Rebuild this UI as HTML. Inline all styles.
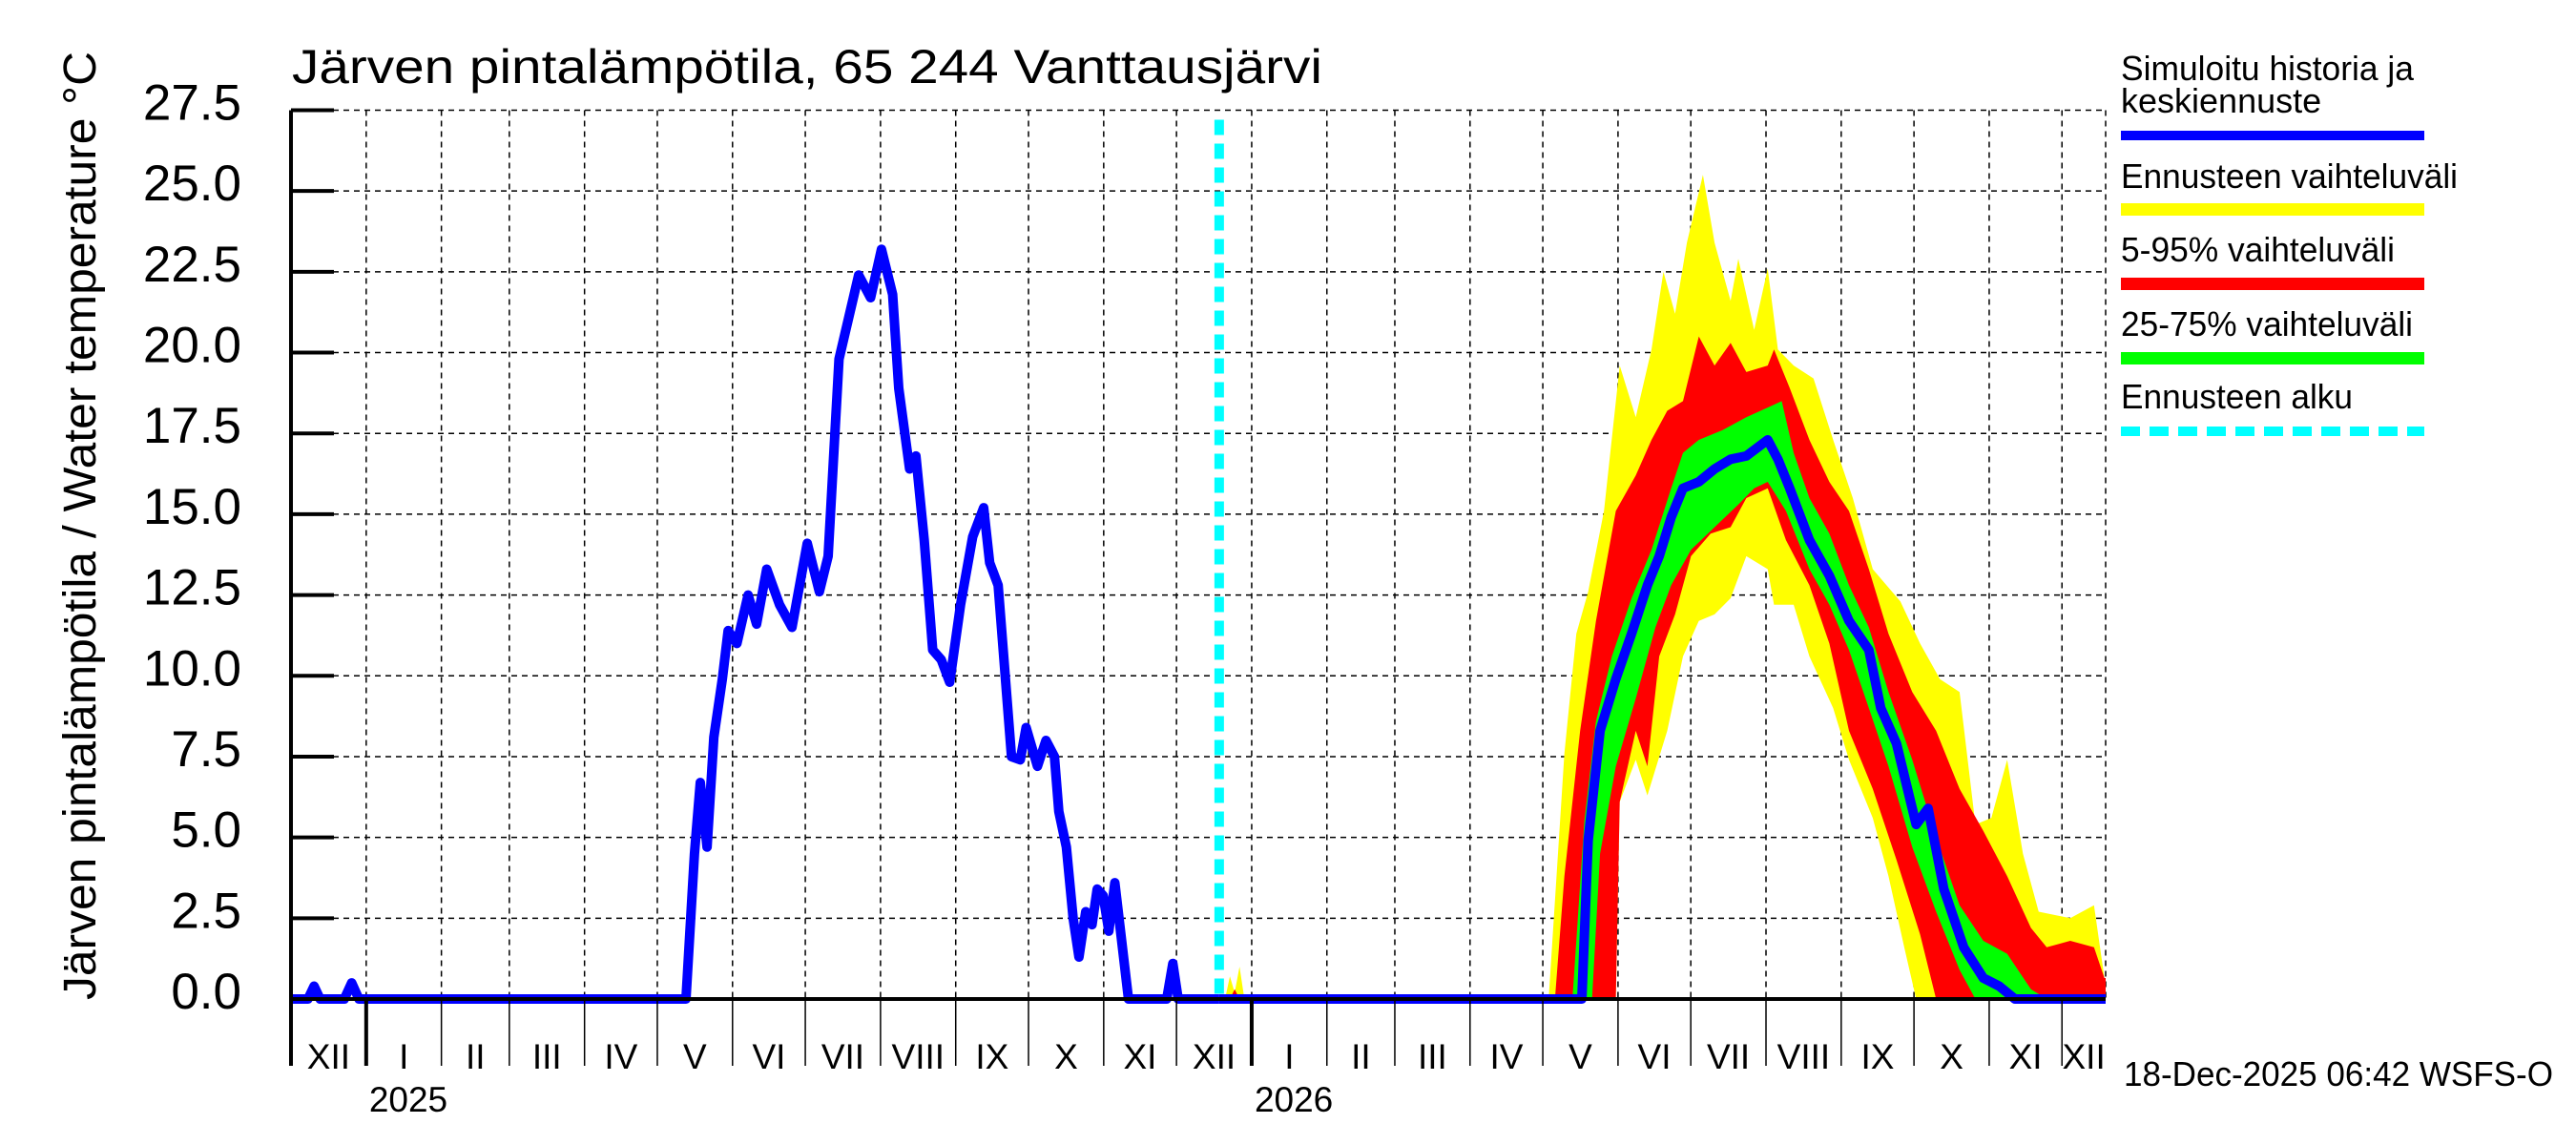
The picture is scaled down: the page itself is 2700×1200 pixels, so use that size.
<!DOCTYPE html>
<html><head><meta charset="utf-8"><style>
html,body{margin:0;padding:0;background:#fff}
svg{display:block}
text{font-family:"Liberation Sans",sans-serif;fill:#000}
</style></head><body>
<svg id="chart" width="2700" height="1200" viewBox="0 0 2700 1200" xmlns="http://www.w3.org/2000/svg">
<g id="grid"></g>
<g id="bands"></g>
<g id="lines"></g>
<g id="axes"></g>
<text x="306" y="87" font-size="50" textLength="1080" lengthAdjust="spacingAndGlyphs">Järven pintalämpötila, 65 244 Vanttausjärvi</text>
<text transform="translate(100,551) rotate(-90)" text-anchor="middle" font-size="48" textLength="994" lengthAdjust="spacingAndGlyphs">Järven pintalämpötila / Water temperature °C</text>
<g>
<text x="2223" y="84" font-size="36" textLength="307" lengthAdjust="spacingAndGlyphs">Simuloitu historia ja</text>
<text x="2223" y="118" font-size="36">keskiennuste</text>
<rect x="2223" y="137" width="318" height="10" fill="#0000ff"/>
<text x="2223" y="197" font-size="36" textLength="353" lengthAdjust="spacingAndGlyphs">Ennusteen vaihteluväli</text>
<rect x="2223" y="213" width="318" height="13" fill="#ffff00"/>
<text x="2223" y="274" font-size="36" textLength="287" lengthAdjust="spacingAndGlyphs">5-95% vaihteluväli</text>
<rect x="2223" y="291" width="318" height="13" fill="#ff0000"/>
<text x="2223" y="352" font-size="36" textLength="306" lengthAdjust="spacingAndGlyphs">25-75% vaihteluväli</text>
<rect x="2223" y="369" width="318" height="13" fill="#00ff00"/>
<text x="2223" y="428" font-size="36" textLength="243" lengthAdjust="spacingAndGlyphs">Ennusteen alku</text>
<line x1="2223" y1="452" x2="2541" y2="452" stroke="#00ffff" stroke-width="10" stroke-dasharray="20 10"/>
</g>
<text x="2226" y="1138" font-size="36" textLength="450" lengthAdjust="spacingAndGlyphs">18-Dec-2025 06:42 WSFS-O</text>
</svg>
<script>
// days since 2024-12-01
const histDays=[0,7,9.5,12,22,25,28,162.8,166.3,168.7,171.5,174.3,177.8,180.2,183.8,188.4,191.9,196.1,201.4,206.5,212.8,217.8,221.4,225.9,234,238.9,243.4,248,250.5,255,257.6,261,264.5,268,271.5,276,281,285.5,288,291.5,297,300.6,303,307.7,311.2,314.7,316.5,319.6,322.4,324.8,327.6,330.2,332.3,334.8,337.1,339.6,345.2,361,363.5,365.7,382.6];
const histVals=[0,0,0.4,0,0,0.5,0,0,4.5,6.7,4.7,8.1,9.9,11.4,11.0,12.5,11.6,13.3,12.2,11.5,14.1,12.6,13.7,19.8,22.4,21.7,23.2,21.8,18.9,16.4,16.8,14.2,10.8,10.5,9.8,12.2,14.3,15.2,13.5,12.8,7.5,7.4,8.4,7.2,8.0,7.5,5.8,4.7,2.5,1.3,2.7,2.3,3.4,3.2,2.1,3.6,0,0,1.1,0,0];
const medDays=[382.6,532.1,534.7,539.6,546.1,552.6,559.1,564.0,568.9,573.8,580.3,586.8,593.4,599.9,608.7,612.9,617.8,625.9,634.1,642.2,650.4,655.3,661.8,669.9,674.8,681.3,689.5,697.6,704.1,710.6,748];
const medVals=[0,0,4.9,8.3,9.9,11.3,12.8,13.7,14.9,15.8,16.0,16.4,16.7,16.8,17.3,16.7,15.8,14.2,13.1,11.7,10.8,9.0,7.9,5.4,5.9,3.4,1.6,0.65,0.4,0,0];
const yHiDays=[382.6,385,387,389,391,393,518.4,524.9,529.8,534.7,541.2,547.7,554.3,560.8,565.7,570.5,575.4,582.0,586.8,593.4,596.6,603.1,608.7,612.9,619.4,627.6,635.7,643.8,652.0,663.4,671.5,679.7,687.8,694.3,700.9,707.4,713.9,720.4,733.4,743.2,747.5,748];
const yHiVals=[0,0,0.7,0.2,1.0,0,0,7.6,11.3,12.6,15.1,19.6,18,20.1,22.5,21.2,23.4,25.5,23.4,21.6,22.9,20.7,22.6,20.1,19.6,19.2,17.3,15.5,13.3,12.3,11.0,9.9,9.5,5.4,5.6,7.4,4.5,2.7,2.5,2.9,0.65,0.65];
const yLoDays=[382.6,546.1,547.7,554.3,559.1,567.3,573.8,580.3,586.8,593.4,599.9,608.7,611.3,619.4,625.9,635.7,642.2,652.0,658.5,665.0,669.9,748];
const yLoVals=[0,0,6.1,7.4,6.3,8.3,10.6,11.7,11.9,12.4,13.7,13.3,12.2,12.2,10.6,9.0,7.4,5.6,3.8,1.6,0,0];
const rHiDays=[382.6,387,389,391,521.0,524.9,531.4,537.9,546.1,554.3,560.8,567.3,573.8,580.3,586.8,593.4,599.9,608.7,611.3,617.8,625.9,634.1,642.2,650.4,658.5,668.3,678.1,687.8,697.6,707.4,717.2,723.7,733.4,743.2,747.5,748];
const rHiVals=[0,0,0.3,0,0,3.8,8.3,11.7,15.1,16.2,17.3,18.2,18.5,20.5,19.6,20.3,19.4,19.6,20.1,18.9,17.3,16.0,15.1,13.3,11.3,9.5,8.3,6.5,5.2,3.8,2.2,1.6,1.8,1.6,0.65,0.65];
const rLoDays=[382.6,546.1,547.7,554.3,559.1,564.0,570.5,577.1,585.2,593.4,599.9,608.7,616.2,625.9,634.1,642.2,652.0,661.8,671.5,678.1,748];
const rLoVals=[0,0,6.1,8.3,7.2,10.6,11.9,13.7,14.4,14.6,15.5,15.8,14.2,12.8,11.0,8.3,6.5,4.3,2.0,0,0];
const gHiDays=[382.6,528.2,533.1,537.9,544.5,552.6,560.8,568.9,573.8,580.3,590.1,599.9,608.7,614.5,619.4,625.9,634.1,642.2,650.4,658.5,668.3,678.1,687.8,697.6,707.4,717.2,723.7,748];
const gHiVals=[0,0,5.5,8.6,10.6,12.4,13.9,15.8,16.9,17.3,17.6,18.0,18.3,18.5,16.9,15.5,14.4,12.8,11.5,9.5,7.4,5.0,2.9,1.8,1.4,0.3,0,0];
const gLoDays=[382.6,536.3,539.6,546.1,554.3,562.4,568.9,577.1,586.8,596.6,603.1,608.7,616.2,625.9,634.1,642.2,650.4,658.5,668.3,678.1,687.8,694.3,748];
const gLoVals=[0,0,4.5,7.2,9.3,11.5,12.8,13.9,14.6,15.3,15.8,16.0,15.1,13.3,12.2,10.8,9.0,7.2,4.7,2.7,0.9,0,0];
const yTicks=[0,2.5,5,7.5,10,12.5,15,17.5,20,22.5,25,27.5];
const monthStarts=[0,31,62,90,121,151,182,212,243,274,304,335,365,396,427,455,486,516,547,577,608,639,669,700,730];
const monthLabels=["XII","I","II","III","IV","V","VI","VII","VIII","IX","X","XI","XII","I","II","III","IV","V","VI","VII","VIII","IX","X","XI","XII"];
const yearLabels=["2025","2026"];
const yearStarts=[31,396];
const forecastStart=382.6;
const domainDays=748;

const X0=305,X1=2207,Y0=1047,YT=115.5;
const xs=d=>X0+(X1-X0)*d/domainDays;
const ys=v=>Y0-(Y0-YT)*v/27.5;
const NS="http://www.w3.org/2000/svg";
function mk(tag,attrs,parent){const e=document.createElementNS(NS,tag);for(const k in attrs)e.setAttribute(k,attrs[k]);parent.appendChild(e);return e;}
const grid=document.getElementById('grid'),bands=document.getElementById('bands'),lines=document.getElementById('lines'),axes=document.getElementById('axes');

yTicks.forEach((t,i)=>{
  if(i>0){const g=mk('line',{x1:X0,x2:X1,y1:ys(t),y2:ys(t),stroke:'#000','stroke-width':1.5,'stroke-dasharray':'6 5'},grid);
  
  }
  const tk=mk('line',{x1:X0,x2:X0+45,y1:ys(t),y2:ys(t),stroke:'#000','stroke-width':4},axes);
  
  
  const lb=mk('text',{x:253,y:ys(t)+10,'text-anchor':'end','font-size':53},axes);
  lb.textContent=t.toFixed(1);
  
  
});
monthStarts.forEach((d,i)=>{
  if(i>0){const g=mk('line',{x1:xs(d),x2:xs(d),y1:YT,y2:Y0,stroke:'#000','stroke-width':1.5,'stroke-dasharray':'6 5'},grid);
  
  }
  const isYear=yearStarts.includes(d);
  const tk=mk('line',{x1:xs(d),x2:xs(d),y1:Y0,y2:1117,stroke:'#000','stroke-width':isYear?4:1.5},axes);
  
  
  const next=i+1<monthStarts.length?monthStarts[i+1]:domainDays;
  const lb=mk('text',{x:(xs(d)+xs(Math.min(next,domainDays)))/2,y:1120,'text-anchor':'middle','font-size':37},axes);
  lb.textContent=monthLabels[i];
  
  
});
yearLabels.forEach((y,i)=>{
  const lb=mk('text',{x:xs(yearStarts[i])+3,y:1165,'font-size':37},axes);
  lb.textContent=y;
  
  
});
const rg=mk('line',{x1:X1,x2:X1,y1:YT,y2:Y0,stroke:'#000','stroke-width':1.5,'stroke-dasharray':'6 5'},grid);


const ya=mk('line',{x1:X0,x2:X0,y1:YT,y2:1117,stroke:'#000','stroke-width':4},axes);


const xa=mk('line',{x1:X0,x2:X1,y1:Y0,y2:Y0,stroke:'#000','stroke-width':4},axes);



function band(hd,hv,ld,lv,color,name){
  const pts=[];
  hd.forEach((d,i)=>pts.push(xs(d).toFixed(1)+','+ys(hv[i]).toFixed(1)));
  for(let i=ld.length-1;i>=0;i--)pts.push(xs(ld[i]).toFixed(1)+','+ys(lv[i]).toFixed(1));
  const p=mk('polygon',{points:pts.join(' '),fill:color},bands);
  
  
}
band(yHiDays,yHiVals,yLoDays,yLoVals,'#ffff00','band-min-max');
band(rHiDays,rHiVals,rLoDays,rLoVals,'#ff0000','band-5-95');
band(gHiDays,gHiVals,gLoDays,gLoVals,'#00ff00','band-25-75');

function line(ds,vs,name){
  const p=mk('polyline',{points:ds.map((d,i)=>xs(d).toFixed(1)+','+ys(vs[i]).toFixed(1)).join(' '),fill:'none',stroke:'#0000ff','stroke-width':10,'stroke-linejoin':'round'},lines);
  
  
}
line(histDays,histVals,'history-line');
line(medDays,medVals,'median-forecast-line');
const fl=mk('line',{x1:xs(forecastStart),x2:xs(forecastStart),y1:YT+10,y2:Y0,stroke:'#00ffff','stroke-width':10,'stroke-dasharray':'16 9'},lines);


</script>
</body></html>
